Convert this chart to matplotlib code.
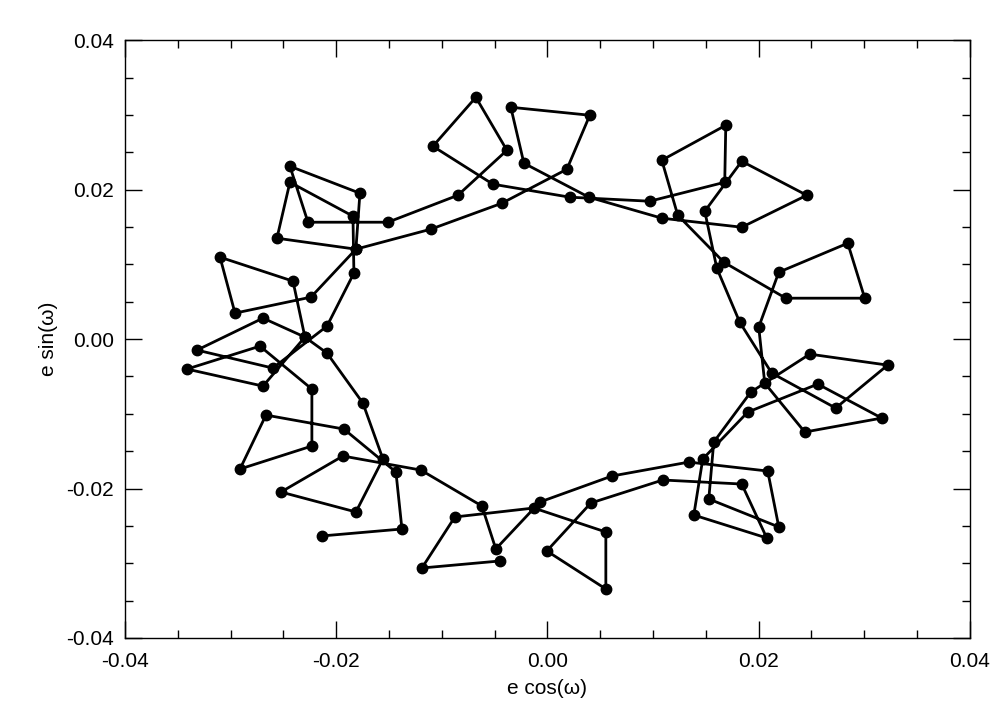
import matplotlib
matplotlib.use("Agg")
import matplotlib.pyplot as plt
from matplotlib.ticker import MultipleLocator

plt.rcParams["font.family"] = ["Liberation Sans", "DejaVu Sans"]

# eccentricity vector samples, one polyline in time order
e_cos = [
    -0.00450, -0.01188, -0.00876, -0.00128, 0.00554, 0.00554, -0.00005, 0.00412,
    0.01093, 0.01841, 0.02078, 0.01387, 0.01472, 0.01898, 0.02561, 0.03167,
    0.02438, 0.02059, 0.02002, 0.02192, 0.02845, 0.03006, 0.02258, 0.01671,
    0.01235, 0.01084, 0.01690, 0.01680, 0.00970, 0.00213, -0.00516, -0.01084,
    -0.00677, -0.00383, -0.00847, -0.01510, -0.02267, -0.02438, -0.01775, -0.01813,
    -0.02239, -0.02958, -0.03100, -0.02409, -0.02296, -0.02087, -0.01747, -0.01557,
    -0.01813, -0.02523, -0.01936, -0.01198, -0.00620, -0.00488, -0.00071, 0.00611,
    0.01340, 0.02087, 0.02192, 0.01529, 0.01576, 0.01927, 0.02485, 0.03223,
    0.02731, 0.02125, 0.01822, 0.01605, 0.01491, 0.01841, 0.02457, 0.01841,
    0.01084, 0.00393, -0.00222, -0.00346, 0.00402, 0.00185, -0.00431, -0.01103,
    -0.01813, -0.02561, -0.02438, -0.01841, -0.01832, -0.02087, -0.02599, -0.03318,
    -0.02693, -0.02296, -0.02693, -0.03413, -0.02722, -0.02230, -0.02230, -0.02911,
    -0.02665, -0.01927, -0.01434, -0.01377, -0.02135,
]
e_sin = [
    -0.02970, -0.03064, -0.02381, -0.02261, -0.02582, -0.03345, -0.02836, -0.02194,
    -0.01886, -0.01940, -0.02662, -0.02355, -0.01605, -0.00977, -0.00602, -0.01057,
    -0.01244, -0.00589, 0.00161, 0.00896, 0.01284, 0.00548, 0.00548, 0.01030,
    0.01659, 0.02395, 0.02863, 0.02100, 0.01846, 0.01900, 0.02074, 0.02582,
    0.03237, 0.02528, 0.01926, 0.01565, 0.01565, 0.02314, 0.01953, 0.01204,
    0.00562, 0.00348, 0.01097, 0.00776, 0.00027, -0.00187, -0.00856, -0.01605,
    -0.02314, -0.02047, -0.01565, -0.01753, -0.02234, -0.02809, -0.02181, -0.01833,
    -0.01646, -0.01766, -0.02515, -0.02140, -0.01378, -0.00709, -0.00201, -0.00348,
    -0.00923, -0.00455, 0.00227, 0.00950, 0.01712, 0.02381, 0.01926, 0.01498,
    0.01619, 0.01900, 0.02355, 0.03104, 0.02997, 0.02274, 0.01819, 0.01472,
    0.01204, 0.01351, 0.02100, 0.01646, 0.00883, 0.00174, -0.00388, -0.00147,
    0.00281, 0.00027, -0.00629, -0.00401, -0.00094, -0.00669, -0.01431, -0.01739,
    -0.01017, -0.01204, -0.01779, -0.02542, -0.02635,
]

fig = plt.figure(figsize=(10.08, 7.2), dpi=100)
ax = fig.add_axes([0.124, 0.114, 0.838, 0.830])

ax.plot(e_cos, e_sin, color="black", lw=2.0, marker="o", ms=7.5, mfc="black", mec="black")

ax.set_xlim(-0.04, 0.04)
ax.set_ylim(-0.04, 0.04)
ax.xaxis.set_major_locator(MultipleLocator(0.02))
ax.yaxis.set_major_locator(MultipleLocator(0.02))
ax.xaxis.set_minor_locator(MultipleLocator(0.005))
ax.yaxis.set_minor_locator(MultipleLocator(0.005))
ax.xaxis.set_major_formatter(plt.FormatStrFormatter("%.2f"))
ax.yaxis.set_major_formatter(plt.FormatStrFormatter("%.2f"))
ax.tick_params(which="both", direction="in", top=True, right=True, width=1, labelsize=15)
ax.tick_params(axis="x", which="major", pad=10)
ax.tick_params(axis="y", which="major", pad=8)
ax.tick_params(which="major", length=12)
ax.tick_params(which="minor", length=6)
for s in ax.spines.values():
    s.set_linewidth(1)

ax.set_xlabel("e cos(ω)", fontsize=15, labelpad=6)
ax.set_ylabel("e sin(ω)", fontsize=15, labelpad=6)

fig.savefig("out.png", dpi=100)
